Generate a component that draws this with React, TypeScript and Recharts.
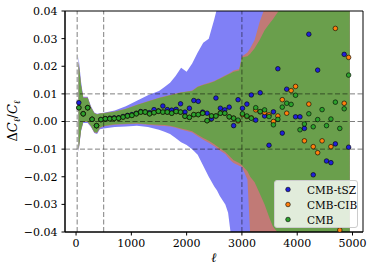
import React from 'react';
import { ComposedChart, Area, Scatter, XAxis, YAxis, ReferenceLine, ReferenceArea } from 'recharts';

// multipole bins of the three spectra
const ells = [
  50, 130, 210, 290, 370, 450, 530, 610, 690, 770, 850, 930, 1010, 1090, 1170, 1250,
  1330, 1410, 1490, 1570, 1650, 1730, 1810, 1890, 1970, 2050, 2130, 2210, 2290, 2370,
  2450, 2530, 2610, 2690, 2770, 2850, 2930, 3010, 3090, 3170, 3250, 3330, 3410, 3490,
  3570, 3650, 3730, 3810, 3890, 3970, 4050, 4130, 4210, 4290, 4370, 4450, 4530, 4610,
  4690, 4770, 4850, 4930,
];

// ΔC_ℓ/C_ℓ, null = outside the plotted range
const tszVals = [
  0.0068, 0.0028, 0.005, 0.0008, -0.0015, 0.0007, 0.001, 0.0012, 0.0013, 0.0013, 0.0018, 0.0022,
  0.0025, 0.003, 0.0036, 0.0035, 0.0032, 0.0043, 0.0038, 0.0056, 0.0043, 0.0041, 0.0044, 0.0064,
  0.0034, 0.0048, 0.0076, 0.0073, 0.0034, 0.003, 0.001, 0.0085, 0.0048, 0.0042, 0.0052, -0.0015,
  0.0079, 0.0048, 0.0063, 0.0096, 0.0005, 0.0104, 0.002, -0.0086, 0.0035, 0.0191, -0.0042, 0.0117,
  null, 0.0017, 0.0017, -0.0025, 0.0316, -0.0193, 0.0186, null, -0.0143, -0.0149, -0.0081, null,
  0.0243, -0.0093,
];
const cibVals = [
  0.005, 0.0028, 0.005, 0.0008, -0.0015, 0.0007, 0.001, 0.001, 0.0011, 0.0012, 0.0016, 0.002,
  0.0022, 0.0028, 0.0034, 0.0034, 0.0028, 0.0032, 0.0037, 0.0034, 0.0034, 0.003, 0.0036, 0.0034,
  0.0019, 0.0015, 0.0025, 0.0025, 0.003, 0.0003, 0.002, 0.002, 0.003, 0.003, 0.0017, 0.0012,
  0.0002, 0.0025, 0.0018, 0.0013, 0.0042, 0.0035, 0.0033, 0.0024, 0.0, 0.002, 0.0079, 0.003,
  0.0112, 0.0127, null, -0.007, 0.0063, -0.0091, -0.0113, -0.007, null, -0.0091, 0.0337, -0.0393,
  0.0066, 0.0232,
];
const cmbVals = [
  0.005, 0.0028, 0.005, 0.0008, -0.0015, 0.0007, 0.001, 0.001, 0.0011, 0.0012, 0.0016, 0.002,
  0.0022, 0.0028, 0.0034, 0.0034, 0.0028, 0.0032, 0.0037, 0.0034, 0.0034, 0.003, 0.0036, 0.0034,
  0.0019, 0.0015, 0.0025, 0.0025, 0.003, 0.0003, 0.002, 0.002, 0.003, 0.003, 0.0017, 0.0012,
  0.0005, 0.0028, 0.002, 0.0012, 0.005, 0.0036, 0.0042, 0.0018, -0.0012, 0.0008, 0.0052, 0.0066,
  0.0062, 0.0095, -0.003, -0.0009, 0.0028, -0.0019, 0.0007, 0.0043, -0.0015, 0.0009, 0.007, -0.0025,
  0.0046, 0.0168,
];

// 1σ bands
const bandEll = [
  45, 90, 130, 210, 270, 330, 380, 430, 500, 700, 900, 1100, 1300, 1500, 1600, 1700, 1800, 1900,
  2000, 2100, 2200, 2300, 2400, 2500, 2550, 2600, 2700, 2750, 2800, 2850, 2950, 3000, 3100, 3150,
  3230, 3320, 3410, 3500, 3560, 3680, 3750, 4950,
];
const tszHi = [
  0.0235, 0.0145, 0.009, 0.009, 0.0055, 0.0033, 0.0028, 0.003, 0.0032, 0.004, 0.0055, 0.0075,
  0.0095, 0.011, 0.0125, 0.014, 0.0165, 0.0195, 0.018, 0.021, 0.025, 0.0285, 0.03, 0.037, 0.041,
  0.06, 0.06, 0.06, 0.06, 0.06, 0.06, 0.06, 0.06, 0.06, 0.06, 0.06, 0.06, 0.06, 0.06, 0.06, 0.06, 0.06,
];
const tszLo = [
  -0.011, -0.0035, -0.0005, -0.0005, -0.002, -0.0042, -0.0045, -0.0028, -0.0025, -0.002, -0.0018,
  -0.0015, -0.002, -0.003, -0.0037, -0.0045, -0.006, -0.0075, -0.0085, -0.01, -0.012, -0.016, -0.02,
  -0.0235, -0.025, -0.027, -0.03, -0.033, -0.041, -0.06, -0.06, -0.06, -0.06, -0.06, -0.06, -0.06,
  -0.06, -0.06, -0.06, -0.06, -0.06, -0.06,
];
const cibHi = [
  0.0218, 0.0132, 0.0087, 0.0087, 0.0052, 0.0031, 0.0026, 0.0029, 0.0031, 0.0036, 0.0046, 0.0061,
  0.0073, 0.0086, 0.0091, 0.0096, 0.0101, 0.0106, 0.0109, 0.0112, 0.0127, 0.0134, 0.014, 0.0147,
  0.0152, 0.0157, 0.0167, 0.0172, 0.0178, 0.0185, 0.019, 0.0235, 0.025, 0.0265, 0.0295, 0.036, 0.041,
  0.06, 0.06, 0.06, 0.06, 0.06,
];
const cibLo = [
  -0.0107, -0.0032, -0.0002, -0.0002, -0.0017, -0.004, -0.0042, -0.0024, -0.0017, -0.0012, -0.001,
  -0.0008, -0.0012, -0.0015, -0.0016, -0.0018, -0.0023, -0.0029, -0.0034, -0.004, -0.0053, -0.0066,
  -0.0077, -0.009, -0.0098, -0.0105, -0.0118, -0.013, -0.0142, -0.015, -0.016, -0.0165, -0.021,
  -0.041, -0.06, -0.06, -0.06, -0.06, -0.06, -0.06, -0.06, -0.06,
];
const cmbHi = [
  0.0215, 0.013, 0.0085, 0.0085, 0.005, 0.003, 0.0025, 0.0028, 0.003, 0.0035, 0.0045, 0.006,
  0.0072, 0.0085, 0.009, 0.0095, 0.01, 0.0105, 0.0108, 0.011, 0.0125, 0.0132, 0.0138, 0.0145,
  0.015, 0.0155, 0.0165, 0.017, 0.0175, 0.018, 0.0185, 0.0232, 0.0236, 0.0245, 0.0265, 0.0295,
  0.033, 0.0355, 0.037, 0.0405, 0.06, 0.06,
];
const cmbLo = [
  -0.0105, -0.003, 0.0, 0.0, -0.0015, -0.0038, -0.004, -0.0022, -0.0015, -0.001, -0.0008, -0.0006,
  -0.001, -0.0012, -0.0013, -0.0015, -0.002, -0.0025, -0.003, -0.0035, -0.0048, -0.006, -0.007,
  -0.0082, -0.009, -0.0097, -0.011, -0.012, -0.013, -0.014, -0.015, -0.0158, -0.018, -0.02, -0.022,
  -0.026, -0.03, -0.035, -0.038, -0.041, -0.06, -0.06,
];

const xTicks = [0, 1000, 2000, 3000, 4000, 5000];
const yTicks = [-0.04, -0.03, -0.02, -0.01, 0, 0.01, 0.02, 0.03, 0.04];
const vLines = [20, 500, 3000];
const hLines = [-0.01, 0, 0.01];

const series = [
  { name: 'CMB-tSZ', vals: tszVals, color: '#1f1fd8' },
  { name: 'CMB-CIB', vals: cibVals, color: '#ff7f0e' },
  { name: 'CMB', vals: cmbVals, color: '#2ca02c' },
];

const bandData = bandEll.map((l, i) => ({
  l,
  tsz: [tszLo[i], tszHi[i]],
  cib: [cibLo[i], cibHi[i]],
  cmb: [cmbLo[i], cmbHi[i]],
}));

const font = '"DejaVu Serif", serif';

const fmtY = (v: number) => (v < 0 ? '\u2212' : '') + Math.abs(v).toFixed(2);

const dot = (fill: string) => (props: any) => (
  <circle cx={props.cx} cy={props.cy} r={2.3} fill={fill} stroke="#000" strokeWidth={0.6} />
);

const YLabel = () => (
  <text transform="translate(17,121) rotate(-90)" textAnchor="middle" fontFamily={font} fontSize={13} fill="#000">
    <tspan>Δ</tspan>
    <tspan fontStyle="italic">C</tspan>
    <tspan fontStyle="italic" fontSize={9} dy={3}>ℓ</tspan>
    <tspan dy={-3}>/</tspan>
    <tspan fontStyle="italic">C</tspan>
    <tspan fontStyle="italic" fontSize={9} dy={3}>ℓ</tspan>
  </text>
);

const XLabel = () => (
  <text x={214} y={262} textAnchor="middle" fontFamily={font} fontStyle="italic" fontSize={13} fill="#000">
    ℓ
  </text>
);

export default function App() {
  return (
    <div style={{ position: 'absolute', left: 0, top: 0, width: 374, height: 273, background: '#fff' }}>
      <ComposedChart width={374} height={273} data={bandData} margin={{ top: 11, right: 11, bottom: 0, left: 0 }}>
        <XAxis
          dataKey="l"
          type="number"
          domain={[-200, 5190]}
          allowDataOverflow
          ticks={xTicks}
          interval={0}
          height={41}
          tickSize={3.5}
          tickMargin={4}
          axisLine={{ stroke: '#000' }}
          tickLine={{ stroke: '#000' }}
          tick={{ fontSize: 11, fontFamily: font, fill: '#000' }}
          label={{ content: <XLabel /> }}
        />
        <YAxis
          type="number"
          domain={[-0.04, 0.04]}
          allowDataOverflow
          ticks={yTicks}
          interval={0}
          width={65}
          tickSize={3.5}
          tickMargin={4}
          tickFormatter={fmtY}
          axisLine={{ stroke: '#000' }}
          tickLine={{ stroke: '#000' }}
          tick={{ fontSize: 11, fontFamily: font, fill: '#000' }}
          label={{ content: <YLabel /> }}
        />
        <Area dataKey="tsz" type="linear" fill="#8080f6" fillOpacity={1} stroke="none" dot={false} activeDot={false} isAnimationActive={false} />
        <Area dataKey="cib" type="linear" fill="#c17a76" fillOpacity={1} stroke="none" dot={false} activeDot={false} isAnimationActive={false} />
        <Area dataKey="cmb" type="linear" fill="#6a9f4c" fillOpacity={1} stroke="none" dot={false} activeDot={false} isAnimationActive={false} />
        {vLines.map((x) => (
          <ReferenceLine key={'v' + x} x={x} stroke="#000" strokeOpacity={0.5} strokeDasharray="5 2.5" />
        ))}
        {hLines.map((y) => (
          <ReferenceLine key={'h' + y} y={y} stroke="#000" strokeOpacity={0.5} strokeDasharray="5 2.5" />
        ))}
        {series.map((s) => (
          <Scatter
            key={s.name}
            name={s.name}
            data={ells.map((l, i) => ({ l, v: s.vals[i] })).filter((p) => p.v !== null)}
            dataKey="v"
            fill={s.color}
            shape={dot(s.color)}
            isAnimationActive={false}
          />
        ))}
        <ReferenceArea x1={-200} x2={5190} y1={-0.04} y2={0.04} fill="none" stroke="#000" strokeWidth={1} ifOverflow="visible" />
      </ComposedChart>
      <div
        style={{
          position: 'absolute',
          left: 274,
          top: 180,
          width: 84,
          height: 48,
          boxSizing: 'border-box',
          background: 'rgba(255,255,255,0.8)',
          border: '1px solid #cccccc',
          borderRadius: 3,
          fontFamily: font,
          fontSize: 10.5,
        }}
      >
        {series.map((s, i) => (
          <div key={s.name} style={{ position: 'absolute', left: 0, top: 1 + i * 15, height: 15, display: 'flex', alignItems: 'center' }}>
            <svg width={30} height={15} style={{ display: 'block' }}>
              <circle cx={13} cy={7.5} r={2.3} fill={s.color} stroke="#000" strokeWidth={0.6} />
            </svg>
            <span style={{ marginLeft: 2, whiteSpace: 'nowrap' }}>{s.name}</span>
          </div>
        ))}
      </div>
    </div>
  );
}
